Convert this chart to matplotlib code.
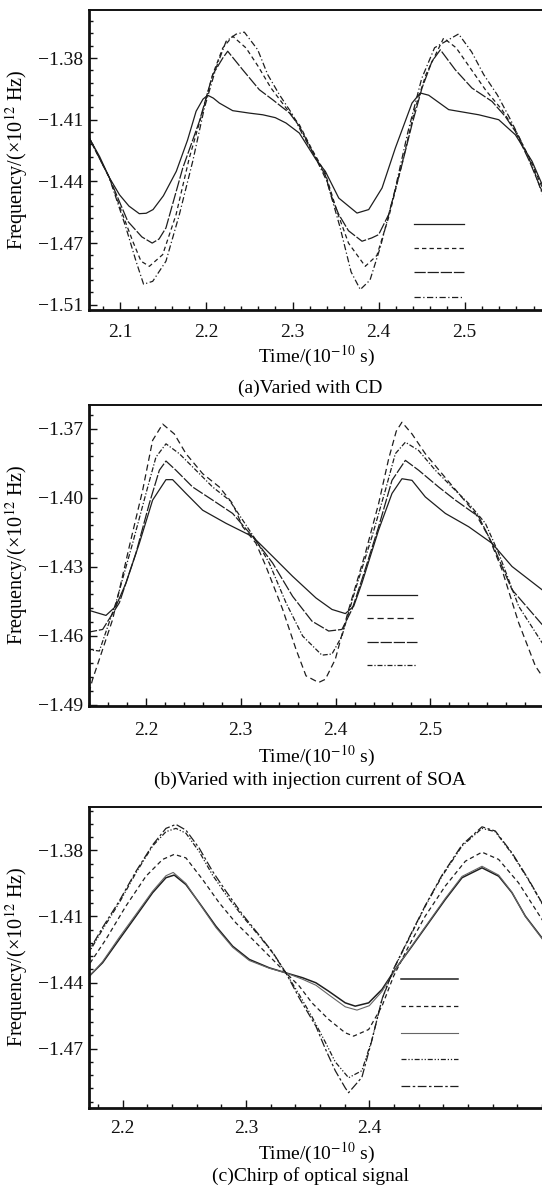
import matplotlib
matplotlib.use("Agg")
import matplotlib.pyplot as plt
from matplotlib.ticker import FixedLocator, MultipleLocator
import numpy as np

plt.rcParams['font.family'] = ['Liberation Serif', 'DejaVu Serif']
plt.rcParams['mathtext.fontset'] = 'stix'

# ---------------- data: panel (a) varied with CD ----------------
a_t1 = [2.064, 2.076, 2.087, 2.099, 2.110, 2.122, 2.130, 2.138, 2.150, 2.165, 2.178, 2.188, 2.196, 2.2015, 2.208, 2.215, 2.2305, 2.250, 2.2654, 2.280, 2.2924, 2.3079, 2.3273, 2.3381, 2.3537, 2.3749, 2.3885, 2.4040, 2.4194, 2.4388, 2.4484, 2.4582, 2.4814, 2.5163, 2.5395, 2.5588, 2.5782, 2.590, 2.600]
a_f1 = [-1.419, -1.428, -1.438, -1.4465, -1.452, -1.4557, -1.4555, -1.4537, -1.447, -1.4351, -1.420, -1.4059, -1.400, -1.3981, -1.3995, -1.4019, -1.4056, -1.4068, -1.4076, -1.409, -1.4116, -1.4165, -1.4294, -1.4351, -1.4481, -1.4554, -1.4537, -1.4432, -1.4238, -1.4019, -1.3970, -1.3981, -1.4051, -1.4076, -1.4100, -1.4173, -1.4302, -1.4416, -1.450]
a_t2 = [2.064, 2.087, 2.1086, 2.125, 2.137, 2.145, 2.153, 2.1725, 2.1918, 2.2073, 2.219, 2.2247, 2.2421, 2.2614, 2.277, 2.2964, 2.308, 2.325, 2.3381, 2.3458, 2.3536, 2.365, 2.3807, 2.392, 2.400, 2.4116, 2.4271, 2.4387, 2.4504, 2.462, 2.4717, 2.489, 2.5084, 2.5317, 2.5471, 2.5588, 2.575, 2.590, 2.600]
a_f2 = [-1.419, -1.438, -1.4594, -1.467, -1.4700, -1.468, -1.4626, -1.4335, -1.4108, -1.3881, -1.3800, -1.3767, -1.3857, -1.3954, -1.4003, -1.4067, -1.4132, -1.427, -1.437, -1.448, -1.456, -1.464, -1.4691, -1.4675, -1.4659, -1.4562, -1.4319, -1.4124, -1.3946, -1.3816, -1.3760, -1.3857, -1.3946, -1.4011, -1.4084, -1.4157, -1.430, -1.445, -1.452]
a_t3 = [2.064, 2.087, 2.1028, 2.1144, 2.124, 2.1337, 2.1492, 2.1647, 2.1801, 2.1957, 2.2073, 2.219, 2.2305, 2.246, 2.260, 2.275, 2.2925, 2.3079, 2.322, 2.338, 2.352, 2.365, 2.3845, 2.398, 2.412, 2.428, 2.442, 2.455, 2.4755, 2.490, 2.505, 2.525, 2.543, 2.560, 2.578, 2.590, 2.600]
a_f3 = [-1.419, -1.438, -1.4562, -1.4691, -1.4788, -1.4813, -1.4756, -1.4562, -1.4286, -1.4059, -1.3880, -1.3751, -1.3694, -1.3751, -1.384, -1.3946, -1.4043, -1.4124, -1.424, -1.436, -1.455, -1.470, -1.4813, -1.476, -1.457, -1.430, -1.405, -1.388, -1.3703, -1.375, -1.384, -1.396, -1.405, -1.416, -1.431, -1.443, -1.450]
a_t4 = [2.064, 2.087, 2.1066, 2.1182, 2.127, 2.1376, 2.153, 2.1685, 2.1841, 2.1976, 2.2111, 2.2228, 2.2344, 2.244, 2.2596, 2.2712, 2.2847, 2.3002, 2.3118, 2.325, 2.340, 2.355, 2.368, 2.3787, 2.390, 2.402, 2.418, 2.434, 2.450, 2.465, 2.4929, 2.508, 2.522, 2.538, 2.552, 2.565, 2.580, 2.590, 2.600]
a_f4 = [-1.419, -1.438, -1.4626, -1.4788, -1.4900, -1.4886, -1.4788, -1.4562, -1.4302, -1.4043, -1.3849, -1.3719, -1.3684, -1.3674, -1.3760, -1.3881, -1.3978, -1.4076, -1.4173, -1.427, -1.440, -1.462, -1.484, -1.4926, -1.488, -1.472, -1.446, -1.416, -1.390, -1.375, -1.3683, -1.377, -1.388, -1.398, -1.409, -1.420, -1.434, -1.446, -1.452]
a_yticks = [-1.38, -1.41, -1.44, -1.47, -1.50]
a_ylabels = ['\u22121.38', '\u22121.41', '\u22121.44', '\u22121.47', '\u22121.51']
a_xticks = [2.1, 2.2, 2.3, 2.4, 2.5]
a_xlabels = ['2.1', '2.2', '2.3', '2.4', '2.5']

# ---------------- data: panel (b) injection current ----------------
b_t1 = [2.1367, 2.1578, 2.1683, 2.1789, 2.193, 2.207, 2.2211, 2.2281, 2.2422, 2.2598, 2.2844, 2.3125, 2.3336, 2.3547, 2.3793, 2.3962, 2.4103, 2.4191, 2.4278, 2.4454, 2.4595, 2.470, 2.4806, 2.4946, 2.5158, 2.5404, 2.565, 2.5861, 2.6177, 2.625]
b_f1 = [-1.4486, -1.4512, -1.4472, -1.4371, -1.4198, -1.401, -1.3921, -1.3921, -1.3981, -1.4054, -1.4111, -1.4169, -1.4255, -1.4342, -1.4436, -1.4486, -1.4504, -1.4472, -1.4371, -1.414, -1.3981, -1.3917, -1.3924, -1.3996, -1.4068, -1.4126, -1.4198, -1.4299, -1.440, -1.442]
b_t2 = [2.1367, 2.1543, 2.1719, 2.1894, 2.2035, 2.2141, 2.2211, 2.2316, 2.2492, 2.2703, 2.2914, 2.3125, 2.3336, 2.3547, 2.3751, 2.3927, 2.4067, 2.4173, 2.4278, 2.4454, 2.4595, 2.4736, 2.4876, 2.5087, 2.5263, 2.5509, 2.565, 2.5861, 2.6177, 2.625]
b_f2 = [-1.4587, -1.4573, -1.4457, -1.4241, -1.4025, -1.388, -1.384, -1.388, -1.3953, -1.4010, -1.4068, -1.4169, -1.4284, -1.4429, -1.4537, -1.4580, -1.4573, -1.4486, -1.4356, -1.4126, -1.3924, -1.3837, -1.388, -1.3953, -1.4010, -1.4082, -1.4198, -1.440, -1.4551, -1.457]
b_t3 = [2.1367, 2.1508, 2.1683, 2.1859, 2.200, 2.2105, 2.2211, 2.2352, 2.2527, 2.2703, 2.2879, 2.302, 2.316, 2.330, 2.3477, 2.3653, 2.3856, 2.3962, 2.4067, 2.4208, 2.4384, 2.4525, 2.463, 2.4736, 2.4876, 2.5052, 2.5228, 2.5404, 2.558, 2.572, 2.5931, 2.6177, 2.625]
b_f3 = [-1.4659, -1.4667, -1.4457, -1.4198, -1.3981, -1.3823, -1.3765, -1.3808, -1.388, -1.3953, -1.4010, -1.4097, -1.4184, -1.4284, -1.4457, -1.4602, -1.4685, -1.468, -1.4602, -1.440, -1.4169, -1.3967, -1.3808, -1.3758, -1.3794, -1.388, -1.3953, -1.4025, -1.4111, -1.4241, -1.4472, -1.4630, -1.466]
b_t4 = [2.1399, 2.1437, 2.1508, 2.1648, 2.1824, 2.1965, 2.207, 2.2176, 2.2299, 2.2422, 2.2598, 2.2774, 2.2914, 2.302, 2.316, 2.3266, 2.3442, 2.3582, 2.3688, 2.3821, 2.3892, 2.3997, 2.4138, 2.4314, 2.4454, 2.4560, 2.4640, 2.470, 2.4806, 2.4946, 2.5122, 2.5298, 2.5474, 2.5615, 2.5755, 2.5931, 2.6107, 2.625]
b_f4 = [-1.485, -1.479, -1.4703, -1.4530, -1.4212, -1.3967, -1.375, -1.3679, -1.3722, -1.3808, -1.3895, -1.3953, -1.4025, -1.4126, -1.4198, -1.4299, -1.4486, -1.4659, -1.4775, -1.4804, -1.479, -1.4703, -1.4486, -1.4241, -1.4025, -1.383, -1.371, -1.3671, -1.3722, -1.3808, -1.3895, -1.3981, -1.4068, -1.4169, -1.4313, -1.4544, -1.4732, -1.482]
b_yticks = [-1.37, -1.40, -1.43, -1.46, -1.49]
b_ylabels = ['\u22121.37', '\u22121.40', '\u22121.43', '\u22121.46', '\u22121.49']
b_xticks = [2.2, 2.3, 2.4, 2.5]
b_xlabels = ['2.2', '2.3', '2.4', '2.5']

# ---------------- data: panel (c) chirp of optical signal ----------------
c_t1 = [2.1702, 2.1837, 2.1972, 2.2108, 2.2243, 2.2351, 2.2418, 2.2513, 2.2621, 2.2756, 2.2892, 2.3027, 2.3189, 2.3324, 2.3459, 2.3567, 2.367, 2.3805, 2.3886, 2.3995, 2.4103, 2.421, 2.4346, 2.4481, 2.4616, 2.4752, 2.4914, 2.5049, 2.5157, 2.5265, 2.540, 2.548]
c_f1 = [-1.4386, -1.431, -1.4204, -1.4098, -1.3992, -1.3924, -1.3912, -1.3955, -1.4038, -1.4144, -1.4235, -1.4295, -1.4333, -1.4356, -1.4378, -1.4401, -1.4439, -1.4492, -1.4507, -1.4492, -1.4431, -1.4340, -1.4235, -1.4129, -1.4023, -1.3924, -1.3879, -1.3917, -1.3992, -1.4098, -1.4197, -1.426]
c_t2 = [2.1702, 2.1864, 2.2026, 2.2189, 2.2324, 2.2418, 2.2513, 2.2648, 2.2783, 2.2918, 2.3054, 2.3189, 2.3324, 2.3432, 2.3535, 2.367, 2.3805, 2.3873, 2.3995, 2.4103, 2.4197, 2.4319, 2.4454, 2.4616, 2.4779, 2.4914, 2.5049, 2.521, 2.540, 2.548]
c_f2 = [-1.434, -1.4204, -1.4053, -1.3917, -1.3841, -1.3818, -1.3834, -1.3932, -1.4038, -1.4129, -1.4204, -1.4280, -1.4356, -1.4416, -1.4492, -1.4567, -1.4628, -1.4643, -1.4613, -1.4507, -1.4371, -1.4235, -1.4098, -1.3962, -1.3849, -1.3808, -1.3841, -1.3947, -1.4113, -1.418]
c_t3 = [2.1702, 2.1837, 2.1972, 2.2108, 2.2243, 2.2351, 2.2410, 2.2513, 2.2621, 2.2756, 2.2892, 2.3027, 2.3189, 2.3324, 2.3459, 2.3567, 2.367, 2.3805, 2.3900, 2.4000, 2.4103, 2.421, 2.4346, 2.4481, 2.4616, 2.4752, 2.4914, 2.5049, 2.5157, 2.5265, 2.540, 2.548]
c_f3 = [-1.4390, -1.4305, -1.4195, -1.4090, -1.3985, -1.3915, -1.3900, -1.3950, -1.4040, -1.4150, -1.4240, -1.4300, -1.4335, -1.4356, -1.4385, -1.4412, -1.4455, -1.4510, -1.4525, -1.4505, -1.4440, -1.4342, -1.4232, -1.4125, -1.4018, -1.3918, -1.3872, -1.3912, -1.3990, -1.4100, -1.4200, -1.4265]
c_t4 = [2.1702, 2.1837, 2.1972, 2.2108, 2.2243, 2.2351, 2.2432, 2.2513, 2.2621, 2.2729, 2.2837, 2.2973, 2.3108, 2.3216, 2.3324, 2.3432, 2.3535, 2.3643, 2.3724, 2.3832, 2.394, 2.4022, 2.4103, 2.4197, 2.4319, 2.4454, 2.459, 2.4752, 2.4914, 2.5022, 2.5157, 2.5292, 2.540, 2.548]
c_f4 = [-1.4287, -1.4159, -1.4038, -1.3902, -1.378, -1.3715, -1.3700, -1.3722, -1.3806, -1.3912, -1.4000, -1.4100, -1.4189, -1.4265, -1.4356, -1.4455, -1.4555, -1.4670, -1.4760, -1.4832, -1.4800, -1.4658, -1.4477, -1.4340, -1.4204, -1.4053, -1.3917, -1.3780, -1.3700, -1.3715, -1.3815, -1.3935, -1.4040, -1.411]
c_t5 = [2.1702, 2.1837, 2.1972, 2.2108, 2.2243, 2.2351, 2.2432, 2.2513, 2.2621, 2.2729, 2.2837, 2.2973, 2.3108, 2.3216, 2.3324, 2.3432, 2.3567, 2.3643, 2.3724, 2.3805, 2.3832, 2.394, 2.4022, 2.4103, 2.4197, 2.4319, 2.4454, 2.459, 2.4752, 2.4914, 2.5022, 2.5157, 2.5292, 2.540, 2.548]
c_f5 = [-1.4280, -1.4150, -1.4030, -1.3895, -1.3775, -1.3700, -1.3682, -1.3708, -1.3790, -1.3895, -1.3985, -1.4092, -1.4185, -1.4262, -1.4356, -1.4470, -1.4598, -1.4700, -1.4800, -1.4878, -1.4900, -1.4830, -1.4660, -1.4475, -1.4338, -1.4200, -1.4050, -1.3912, -1.3775, -1.3693, -1.3712, -1.3811, -1.3932, -1.4038, -1.411]
c_yticks = [-1.38, -1.41, -1.44, -1.47]
c_ylabels = ['\u22121.38', '\u22121.41', '\u22121.44', '\u22121.47']
c_xticks = [2.2, 2.3, 2.4]
c_xlabels = ['2.2', '2.3', '2.4']

captions = ['(a)Varied with CD', '(b)Varied with injection current of SOA', '(c)Chirp of optical signal']
xlabel_text = r'Time/(10$^{-10}$ s)'
ylabel_text = 'Frequency/(\u00d710$^{12}$ Hz)'

# ---------------- figure ----------------
W, H = 542, 1190
fig = plt.figure(figsize=(W / 100, H / 100), dpi=100)

def px_axes(left, right, top, bottom):
    return fig.add_axes([left / W, 1 - bottom / H, (right - left) / W, (bottom - top) / H])

FS = 14
DARK = '#1e1e1e'

def style_axes(ax, xlim, ylim, xticks, xlabels, yticks, ylabels, ymin_start, xpad):
    ax.set_xlim(*xlim)
    ax.set_ylim(*ylim)
    ax.set_xticks(xticks, xlabels)
    ax.set_yticks(yticks, ylabels)
    ax.xaxis.set_minor_locator(MultipleLocator(0.02))
    ax.yaxis.set_minor_locator(FixedLocator(np.arange(ymin_start, ylim[1], 0.006)))
    ax.tick_params(which='both', direction='in', top=False, right=False, colors='#111111', width=1.0)
    ax.tick_params(which='major', length=6)
    ax.tick_params(which='minor', length=3)
    ax.tick_params(axis='x', which='major', labelsize=FS, pad=xpad)
    ax.tick_params(axis='y', which='major', labelsize=FS, pad=4)
    ax.spines['left'].set_linewidth(2.0)
    ax.spines['bottom'].set_linewidth(2.0)
    ax.spines['top'].set_linewidth(1.4)
    ax.spines['right'].set_visible(False)
    for s in ax.spines.values():
        s.set_color('#111111')

def add_texts(ylab_y, xlab_y, cap_y, caption):
    fig.text(17 / W, 1 - ylab_y / H, ylabel_text, rotation=90, ha='center', va='center', fontsize=FS + 0.5)
    fig.text(316 / W, 1 - xlab_y / H, xlabel_text, ha='center', va='center', fontsize=FS)
    fig.text(310 / W, 1 - cap_y / H, caption, ha='center', va='center', fontsize=FS)

# ----- panel (a)
axa = px_axes(89, 550.8, 9.7, 309.7)
la1, = axa.plot(a_t1, a_f1, color=DARK, lw=0.9, ls='-')
la2, = axa.plot(a_t2, a_f2, color=DARK, lw=0.9, ls=(0, (9, 1.5)))
la3, = axa.plot(a_t3, a_f3, color=DARK, lw=0.9, ls=(0, (3.5, 2.5)))
la4, = axa.plot(a_t4, a_f4, color=DARK, lw=0.9, ls=(0, (5, 2, 1, 2)))
style_axes(axa, (2.0636, 2.60), (-1.5024, -1.3565), a_xticks, a_xlabels, a_yticks, a_ylabels, -1.50, 10)
axa.legend([la1, la3, la2, la4], ['', '', '', ''], loc='upper left', bbox_to_anchor=(0.703, 0.31),
           frameon=False, handlelength=2.6, handletextpad=0, borderpad=0, borderaxespad=0,
           labelspacing=0.35, fontsize=FS)
add_texts(159.7, 356, 388, captions[0])

# ----- panel (b)
axb = px_axes(89, 548.9, 405, 705.7)
lb1, = axb.plot(b_t1, b_f1, color=DARK, lw=0.9, ls='-')
lb2, = axb.plot(b_t2, b_f2, color=DARK, lw=0.9, ls=(0, (9, 1.5)))
lb3, = axb.plot(b_t3, b_f3, color=DARK, lw=0.9, ls=(0, (4, 1.5, 1, 1.5)))
lb4, = axb.plot(b_t4, b_f4, color=DARK, lw=0.9, ls=(0, (5, 3)))
style_axes(axb, (2.1399, 2.625), (-1.4905, -1.3596), b_xticks, b_xlabels, b_yticks, b_ylabels, -1.49, 12)
axb.legend([lb1, lb4, lb2, lb3], ['', '', '', ''], loc='upper left', bbox_to_anchor=(0.604, 0.39),
           frameon=False, handlelength=2.6, handletextpad=0, borderpad=0, borderaxespad=0,
           labelspacing=0.29, fontsize=FS)
add_texts(555, 756, 780, captions[1])

# ----- panel (c)
axc = px_axes(89, 551.8, 807, 1107.7)
lc1, = axc.plot(c_t1, c_f1, color=DARK, lw=1.1, ls='-')
lc2, = axc.plot(c_t2, c_f2, color=DARK, lw=0.9, ls=(0, (3.5, 2.5)))
lc3, = axc.plot(c_t3, c_f3, color='#666666', lw=0.8, ls='-')
lc4, = axc.plot(c_t4, c_f4, color=DARK, lw=0.9, ls=(0, (4, 1.5, 1, 1.5, 1, 1.5)))
lc5, = axc.plot(c_t5, c_f5, color=DARK, lw=0.9, ls=(0, (7, 2, 2, 2)))
style_axes(axc, (2.1727, 2.548), (-1.4968, -1.3603), c_xticks, c_xlabels, c_yticks, c_ylabels, -1.494, 9)
axc.legend([lc1, lc2, lc3, lc4, lc5], ['', '', '', '', ''], loc='upper left', bbox_to_anchor=(0.675, 0.45),
           frameon=False, handlelength=2.9, handletextpad=0, borderpad=0, borderaxespad=0,
           labelspacing=0.47, fontsize=FS)
add_texts(957, 1153, 1176, captions[2])

fig.savefig('out.png', dpi=100)
